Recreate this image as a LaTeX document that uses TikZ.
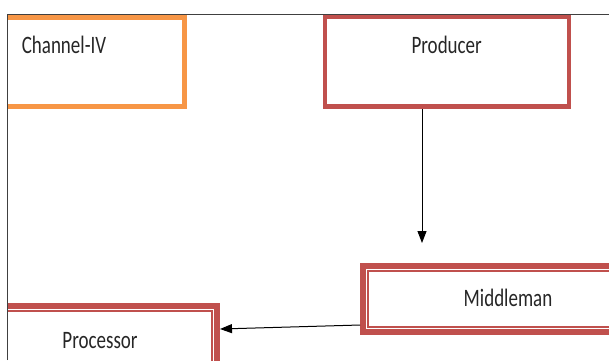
\documentclass[tikz,border=0pt]{standalone}
\usepackage{fontspec}
\setmainfont{Carlito}
\usetikzlibrary{arrows.meta}
\definecolor{boxred}{HTML}{C0504D}
\definecolor{boxorange}{HTML}{F79646}
\definecolor{framegray}{HTML}{404040}
\tikzset{
  single/.style={draw=boxred, line width=4.5pt, inner sep=0pt, fill=none},
  orangebox/.style={draw=boxorange, line width=5pt, inner sep=0pt},
  dbl/.style={draw=boxred, line width=9pt, inner sep=0pt},
  lbl/.style={anchor=base, inner sep=0pt, font=\fontsize{19}{22}\selectfont, text=black!85},
  conn/.style={draw=black, line width=1pt, -{Triangle[length=12pt,width=9pt]}},
}
\newcommand{\tall}[1]{\scalebox{1}[1.32]{#1}}
\begin{document}
\begin{tikzpicture}[x=1pt,y=-1pt]
\useasboundingbox (0,0) rectangle (609,360);
\begin{scope}
\clip (7,14) rectangle (760,420);
\node[orangebox, minimum width=194.5pt, minimum height=89.5pt] (chan) at (87.25,61.75) {};
\node[single, minimum width=244pt, minimum height=89.5pt] (prod) at (447,61.75) {};
\node[dbl, minimum width=355.5pt, minimum height=63pt] (mid) at (542.25,299) {};
\draw[white, line width=1pt] ([shift={(40,6.5)}]mid.north east) -- ([shift={(6.5,6.5)}]mid.north west) -- ([shift={(6.5,-6.5)}]mid.south west) -- ([shift={(40,-6.5)}]mid.south east);
\node[dbl, minimum width=225.5pt, minimum height=92.5pt] (proc) at (102.75,353.75) {};
\draw[white, line width=1pt] ([shift={(-30,6.5)}]proc.north west) -- ([shift={(-6.5,6.5)}]proc.north east) -- ([shift={(-6.5,30)}]proc.south east);
\node[lbl] (chantxt) at (64,53) {\tall{Channel-IV}};
\node[lbl] (prodtxt) at (446.7,53.3) {\tall{Producer}};
\node[lbl] (midtxt) at (508,306.7) {\tall{Middleman}};
\node[lbl] (proctxt) at (100,348) {\tall{Processor}};
\coordinate (down) at (422,243);
\draw[conn] (prod.south -| down) -- (down);
\draw[conn] ([shift={(0,-10)}]mid.south west) -- ([shift={(0,26)}]proc.north east);
\end{scope}
\draw[framegray, line width=1pt] (7,360) -- (7,14) -- (609,14);
\end{tikzpicture}
\end{document}
